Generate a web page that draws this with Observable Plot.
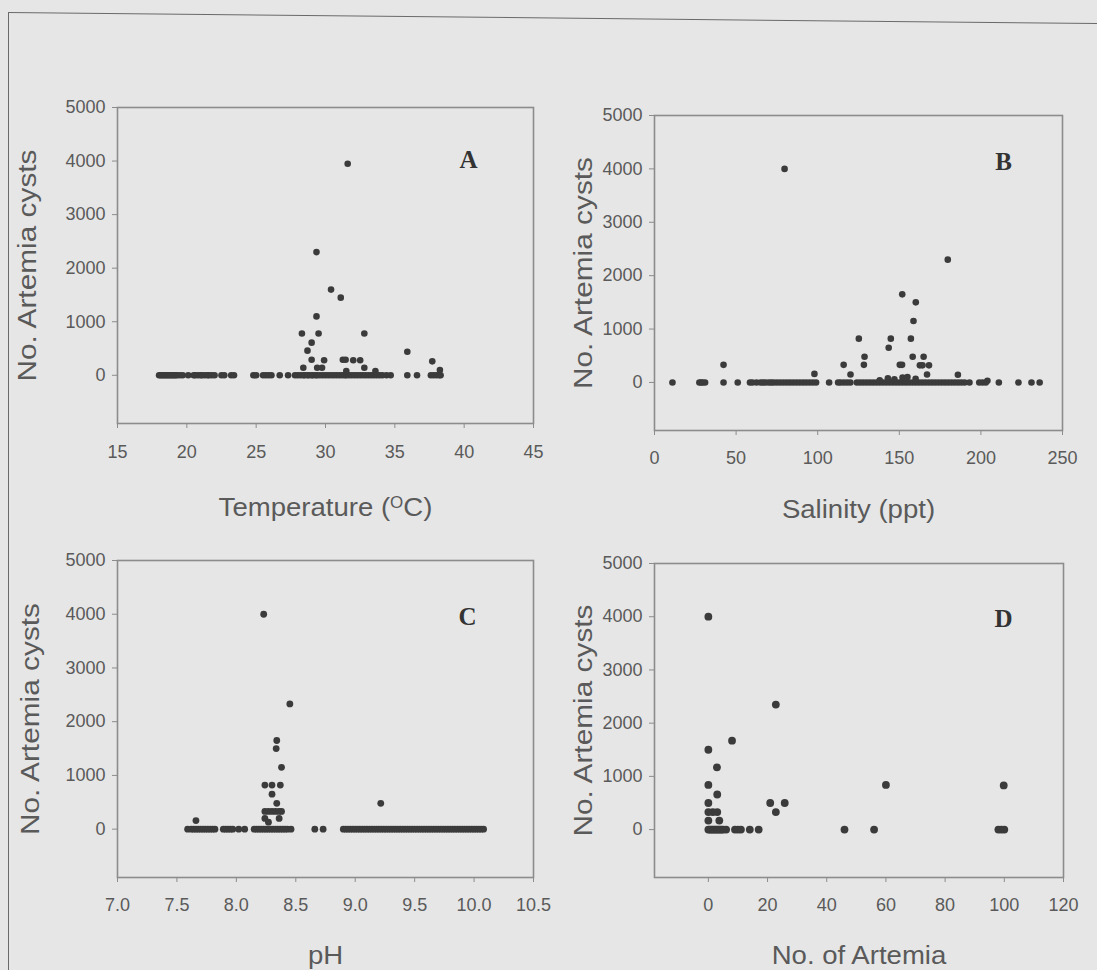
<!DOCTYPE html>
<html>
<head>
<meta charset="utf-8">
<script src="https://cdn.jsdelivr.net/npm/d3@7"></script>
<script src="https://cdn.jsdelivr.net/npm/@observablehq/plot@0.6"></script>
<style>
  body { margin: 0; background: #e6e6e6; }
  #page { position: relative; width: 1097px; height: 970px; background: #e6e6e6; overflow: hidden;
          font-family: "Liberation Sans", Arial, sans-serif; }
  .panel { position: absolute; }
  .panel svg { overflow: visible; }
  #edgeTop { position: absolute; left: 8px; top: 12px; width: 1110px; height: 0;
             border-top: 1.5px solid #6a6a6a; transform-origin: 0 0; transform: rotate(0.58deg); }
  #edgeLeft { position: absolute; left: 8px; top: 12px; width: 0; height: 970px; border-left: 1.5px solid #6a6a6a; }
</style>
</head>
<body>
<div id="page">
  <div id="edgeTop"></div>
  <div id="edgeLeft"></div>
  <div class="panel" id="pA" style="left:0px;top:80px"></div>
  <div class="panel" id="pB" style="left:550px;top:80px"></div>
  <div class="panel" id="pC" style="left:0px;top:530px"></div>
  <div class="panel" id="pD" style="left:550px;top:530px"></div>
</div>
<script>
// Shared y axis: number of Artemia cysts
const yTitle = "No. Artemia cysts";
const cystTicks = [0, 1000, 2000, 3000, 4000, 5000];

// A — water temperature (°C)
const tempTicks = [15, 20, 25, 30, 35, 40, 45];
const temperature = [31.6, 29.35, 30.4, 31.1, 29.35, 28.3, 29.5, 32.8, 29.0, 28.7, 29.0, 29.9,
  31.25, 31.45, 32.0, 32.5, 35.9, 37.7, 38.25, 28.4, 29.4, 29.75, 31.5, 32.8, 33.6];
const cystsA = [3950, 2300, 1600, 1450, 1100, 780, 780, 780, 610, 460, 290, 280,
  290, 290, 280, 280, 440, 260, 100, 140, 140, 140, 80, 140, 80];
const temperatureNoCysts = [18.0, 18.1, 18.2, 18.3, 18.4, 18.5, 18.6, 18.7, 18.8, 18.9, 19.0, 19.1,
  19.2, 19.3, 19.5, 19.7, 20.1, 20.5, 20.6, 20.8, 21.0, 21.1, 21.3, 21.5, 21.6, 21.8, 22.0,
  22.5, 22.7, 23.2, 23.4, 24.8, 25.0, 25.5, 25.7, 25.9, 26.1, 26.7, 27.3,
  27.8, 28.0, 28.2, 28.4, 28.5, 28.7, 28.8, 29.0, 29.1, 29.3, 29.4, 29.6, 29.8, 30.0, 30.2,
  30.4, 30.6, 30.8, 31.0, 31.2, 31.4, 31.5, 31.7, 31.9, 32.1, 32.3, 32.5, 32.7, 32.9, 33.1,
  33.3, 33.5, 33.7, 33.9, 34.1, 34.4, 34.7, 35.9, 36.6, 37.6, 37.8, 38.0, 38.2, 38.3];

// B — salinity (ppt)
const salinityTicks = [0, 50, 100, 150, 200, 250];
const salinity = [79.7, 179.7, 151.8, 160.1, 158.7, 125.2, 144.8, 157.1, 143.5, 128.7, 158.2, 164.9,
  42.3, 115.9, 128.3, 150.3, 151.7, 162.6, 164.2, 168.2, 98, 120.1, 167, 185.9, 204,
  143, 147, 152, 155, 160, 138];
const cystsB = [4000, 2300, 1650, 1500, 1150, 820, 820, 820, 650, 480, 480, 480,
  330, 330, 330, 330, 330, 320, 320, 320, 160, 150, 150, 145, 30,
  80, 60, 90, 100, 70, 40];
const salinityNoCysts = [11, 27.5, 28.5, 29.5, 31, 42.3, 51, 58.5, 60, 62.5, 65, 66.5, 68, 70, 71.5,
  73, 75, 77, 79, 81, 83, 85, 87, 89, 91, 93, 95, 97, 99, 107, 112.5, 114, 116, 118, 120,
  124, 126, 128, 130, 132, 134, 136, 138, 140, 142, 144, 146, 148, 150, 152, 154, 156, 158,
  160, 162, 164, 166, 168, 170, 172, 174, 176, 178, 180, 182, 184, 186, 188, 190, 193,
  199, 201, 203, 211, 223, 231, 236];

// C — pH
const phTicks = [7.0, 7.5, 8.0, 8.5, 9.0, 9.5, 10.0, 10.5];
const ph = [8.23, 8.45, 8.34, 8.335, 8.38, 8.24, 8.30, 8.37, 8.30, 8.34, 8.24, 8.27, 8.30, 8.33,
  8.36, 8.38, 9.215, 7.66, 8.24, 8.27, 8.36];
const cystsC = [4000, 2330, 1650, 1500, 1150, 820, 820, 820, 650, 480, 330, 330, 330, 330,
  330, 330, 480, 160, 200, 130, 200];
const phNoCysts = [7.59, 7.62, 7.64, 7.66, 7.68, 7.70, 7.72, 7.74, 7.76, 7.78, 7.80, 7.82,
  7.89, 7.91, 7.93, 7.95, 7.97, 8.02, 8.07, 8.15, 8.17, 8.19, 8.21, 8.23, 8.25, 8.27, 8.29,
  8.31, 8.33, 8.35, 8.37, 8.39, 8.41, 8.43, 8.46, 8.66, 8.73,
  8.90, 8.92, 8.94, 8.96, 8.98, 9.00, 9.02, 9.04, 9.06, 9.08, 9.10, 9.12, 9.14, 9.16, 9.18,
  9.20, 9.22, 9.24, 9.26, 9.28, 9.30, 9.32, 9.34, 9.36, 9.38, 9.40, 9.42, 9.44, 9.46, 9.48,
  9.50, 9.52, 9.54, 9.56, 9.58, 9.60, 9.62, 9.64, 9.66, 9.68, 9.70, 9.72, 9.74, 9.76, 9.78,
  9.80, 9.82, 9.84, 9.86, 9.88, 9.90, 9.92, 9.94, 9.96, 9.98, 10.00, 10.02, 10.04, 10.06, 10.08];

// D — number of Artemia
const artemiaTicks = [0, 20, 40, 60, 80, 100, 120];
const artemia = [0, 22.8, 8, 0, 2.9, 0, 60, 99.8, 3, 0, 20.9, 25.8, 22.8, 0, 1.5, 3, 0, 3.7];
const cystsD = [4000, 2350, 1670, 1500, 1170, 840, 840, 830, 660, 500, 500, 500, 330, 330, 330, 330, 170, 170];
const artemiaNoCysts = [0, 0.5, 1, 1.5, 2, 2.5, 3, 3.5, 4, 4.5, 5, 6, 9, 10, 11, 14, 17, 46, 56, 98, 99, 100];

const ink = "#3b3b3b";
const axisGrey = "#8c8c8c";
const textGrey = "#5a5a5a";

function scatter(o) {
  const points = o.xs.map((x, i) => ({x, y: o.ys[i]}));
  return Plot.plot({
    width: o.width, height: o.height,
    marginLeft: o.m[0], marginRight: o.m[1], marginTop: o.m[2], marginBottom: o.m[3],
    style: {background: "transparent", color: textGrey, fontFamily: "Liberation Sans, Arial, sans-serif", fontSize: "18px"},
    x: {domain: o.xDomain},
    y: {domain: [-900, 5000]},
    marks: [
      Plot.axisX({ticks: o.xTicks, tickFormat: o.xFormat, tickSize: 5, tickPadding: o.xPad, stroke: axisGrey, fill: textGrey, fontSize: 18, label: null}),
      Plot.axisY({ticks: cystTicks, tickFormat: d => String(d), tickSize: 5, tickPadding: 7, stroke: axisGrey, fill: textGrey, fontSize: 18, label: null}),
      Plot.frame({stroke: axisGrey, strokeWidth: 1.6}),
      Plot.dot(o.zeros, {x: d => d, y: () => 0, r: o.r, fill: ink, stroke: "none"}),
      Plot.dot(points, {x: "x", y: "y", r: o.r, fill: ink, stroke: "none"}),
      Plot.text([o.letter], {text: d => d, frameAnchor: "top-right", dx: o.letterAt[0], dy: o.letterAt[1],
        textAnchor: "middle", lineAnchor: "middle", fontFamily: "Liberation Serif, Times New Roman, serif",
        fontWeight: "bold", fontSize: 25, fill: "#333"}),
      Plot.text([yTitle], {text: d => d, frameAnchor: "left", dx: o.yTitleDx, rotate: -90,
        textAnchor: "middle", lineAnchor: "middle", fontSize: 25, fill: textGrey}),
      Plot.text([o.xTitle], {text: d => d, frameAnchor: "bottom", dy: o.xTitleDy,
        textAnchor: "middle", lineAnchor: "middle", fontSize: 26, fill: textGrey})
    ]
  });
}

const panels = [
  {id: "pA", width: 550, height: 460, m: [117, 17, 27, 117], xDomain: [15, 45], xTicks: tempTicks, xFormat: d => String(d),
   xs: temperature, ys: cystsA, zeros: temperatureNoCysts, r: 3.3, letter: "A", letterAt: [-65, 52],
   yTitleDx: -90, xTitle: "Temperature (OC)", xTitleDy: 84, xPad: 17},
  {id: "pB", width: 547, height: 460, m: [104, 35, 35, 110], xDomain: [0, 250], xTicks: salinityTicks, xFormat: d => String(d),
   xs: salinity, ys: cystsB, zeros: salinityNoCysts, r: 3.3, letter: "B", letterAt: [-59, 46],
   yTitleDx: -71, xTitle: "Salinity (ppt)", xTitleDy: 79, xPad: 16},
  {id: "pC", width: 550, height: 440, m: [117, 17, 30, 93], xDomain: [7, 10.5], xTicks: phTicks, xFormat: d => d.toFixed(1),
   xs: ph, ys: cystsC, zeros: phNoCysts, r: 3.4, letter: "C", letterAt: [-66, 56],
   yTitleDx: -87, xTitle: "pH", xTitleDy: 78, xPad: 16},
  {id: "pD", width: 547, height: 440, m: [104, 34, 33, 93], xDomain: [-18.2, 120], xTicks: artemiaTicks, xFormat: d => String(d),
   xs: artemia, ys: cystsD, zeros: artemiaNoCysts, r: 3.9, letter: "D", letterAt: [-60, 55],
   yTitleDx: -71, xTitle: "No. of Artemia", xTitleDy: 78, xPad: 16}
];

for (const p of panels) {
  const svg = scatter(p);
  document.getElementById(p.id).appendChild(svg);
  d3.select(svg).selectAll("text").each(function() {
    const t = this.textContent;
    if (t === yTitle) {
      this.setAttribute("textLength", 232);
      this.setAttribute("lengthAdjust", "spacingAndGlyphs");
    } else if (t === p.xTitle) {
      if (t === "Temperature (OC)") {
        // degree sign drawn as a raised small "O"
        this.textContent = "";
        const sel = d3.select(this);
        sel.append("tspan").text("Temperature (");
        sel.append("tspan").attr("font-size", "16px").attr("dy", "-8").text("O");
        sel.append("tspan").attr("dy", "8").text("C)");
      }
      const len = this.getComputedTextLength();
      this.setAttribute("textLength", (len * 1.06).toFixed(1));
      this.setAttribute("lengthAdjust", "spacingAndGlyphs");
    }
  });
}
</script>
</body>
</html>
